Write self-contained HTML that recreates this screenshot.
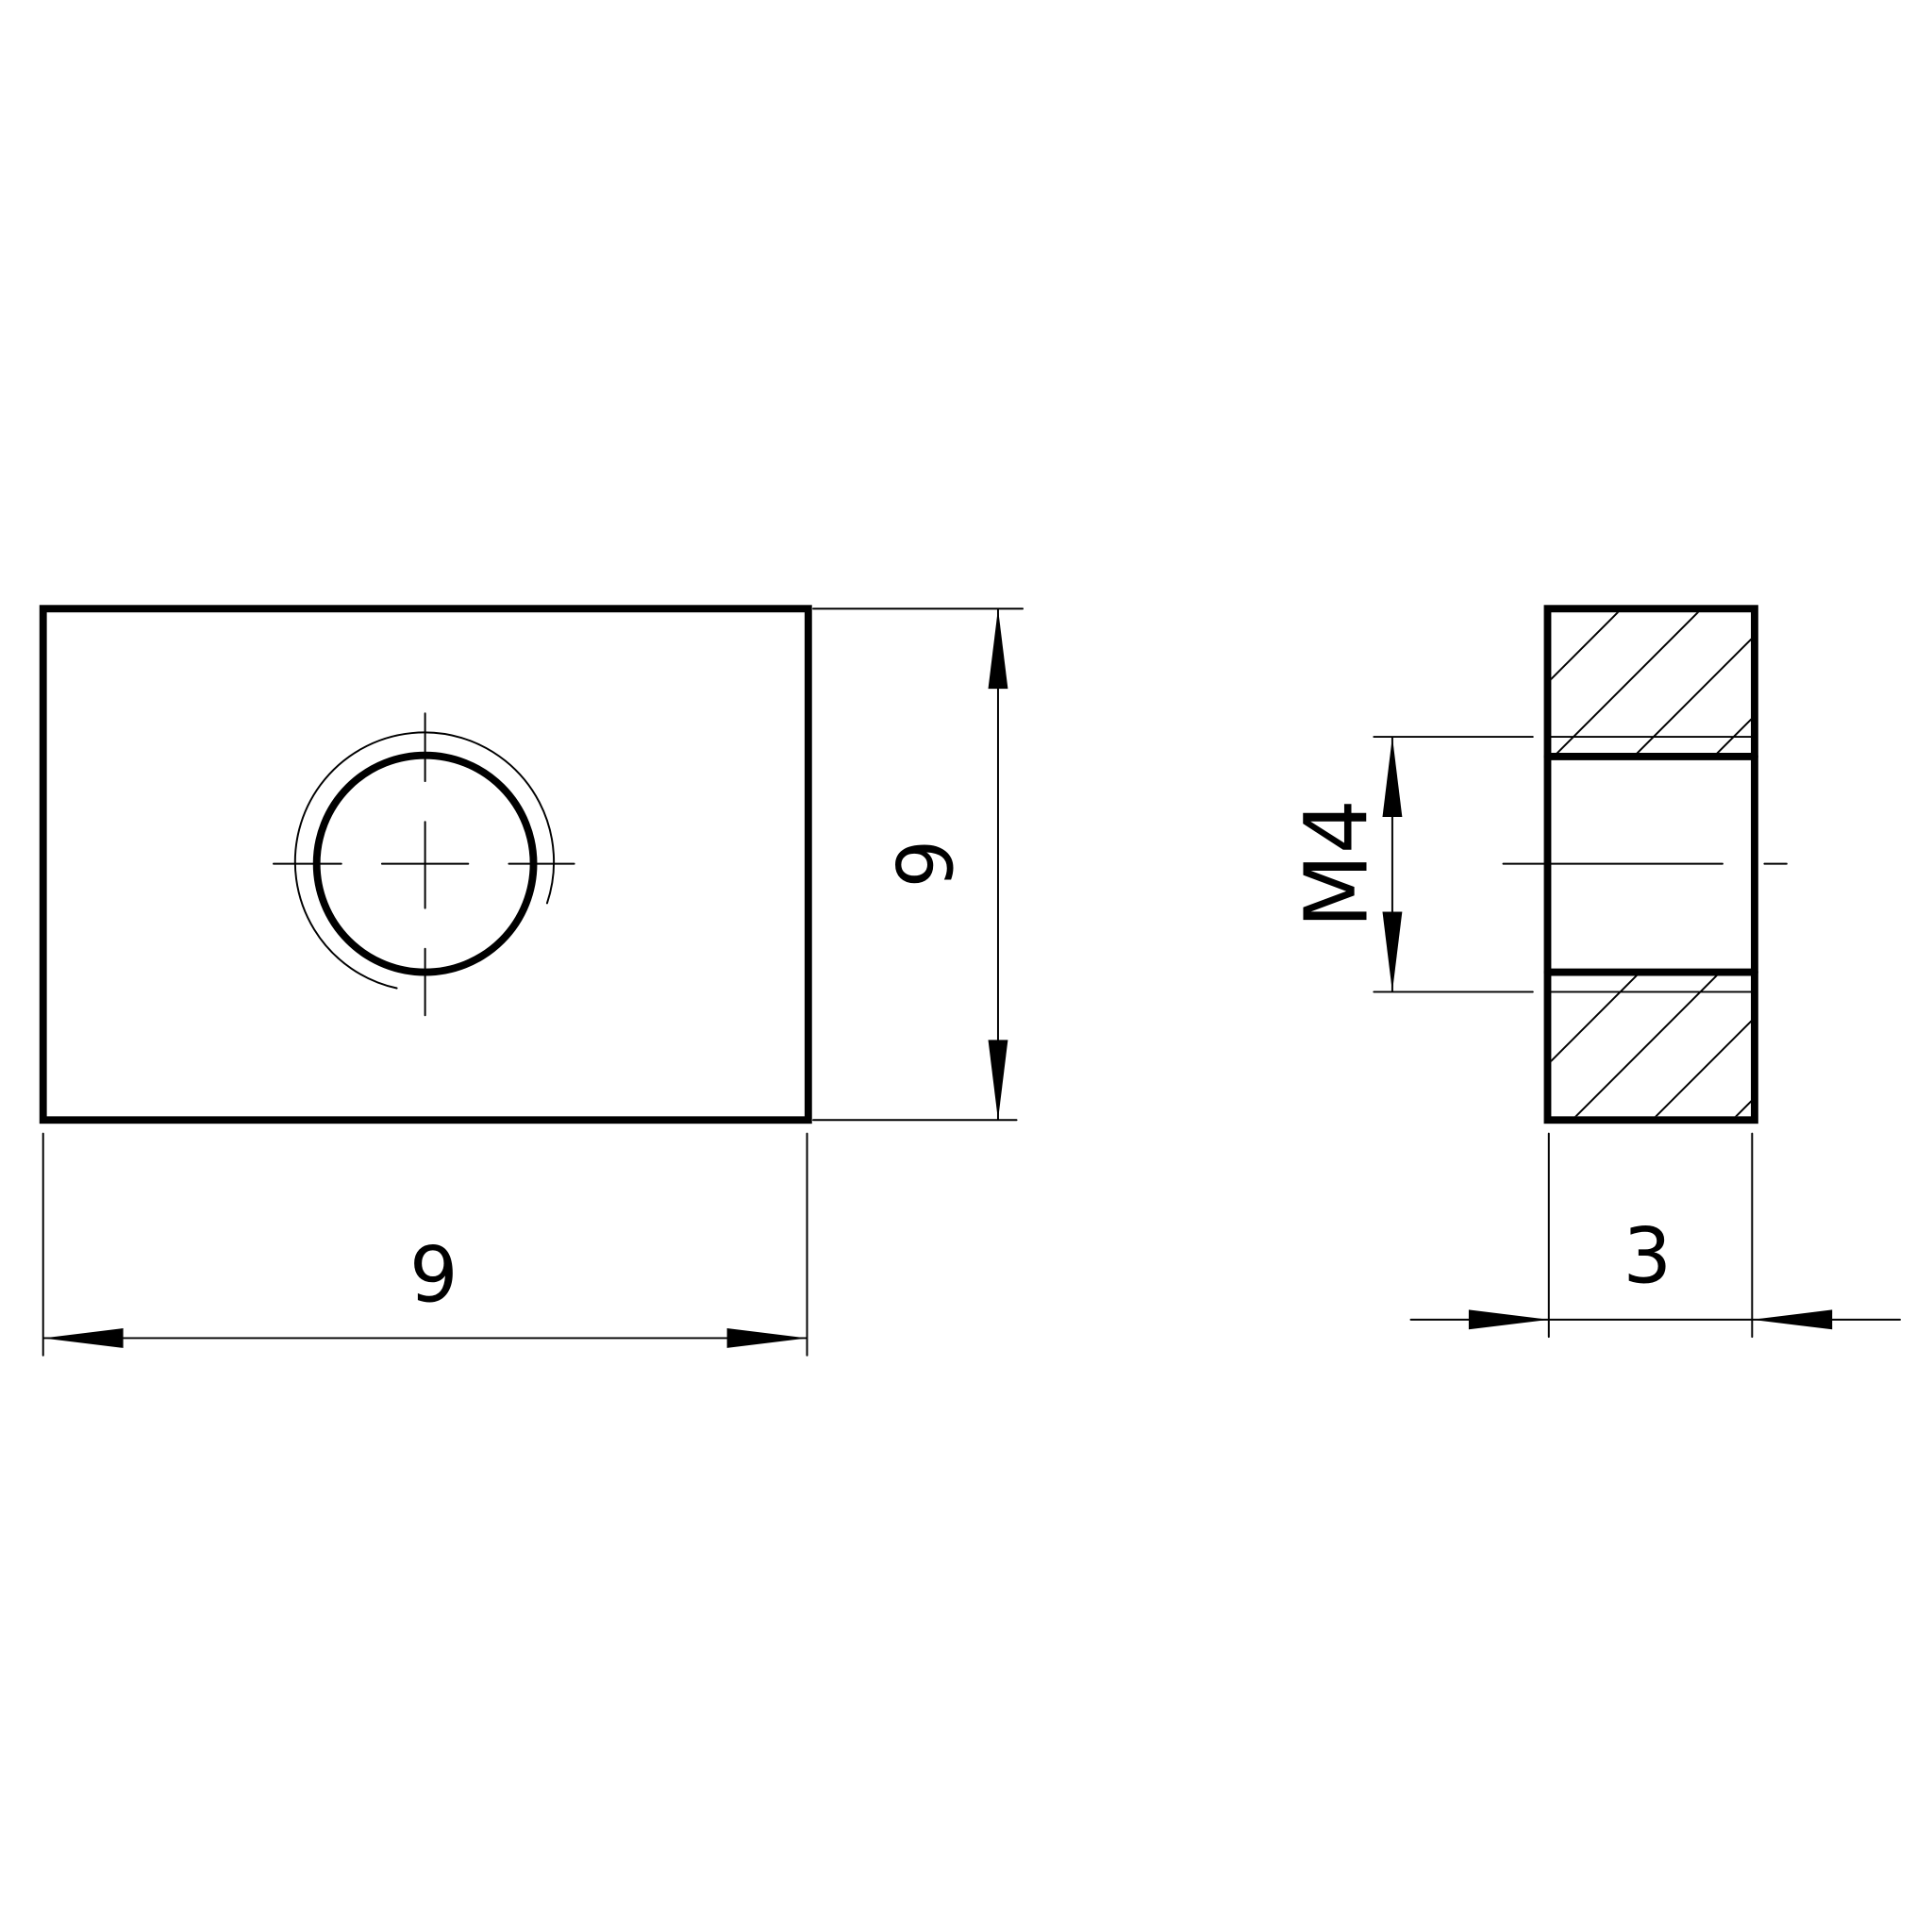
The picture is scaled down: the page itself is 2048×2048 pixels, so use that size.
<!DOCTYPE html>
<html><head><style>html,body{margin:0;padding:0;background:#fff}svg{display:block}</style></head>
<body>
<svg width="2048" height="2048" viewBox="0 0 1568 1568" xmlns="http://www.w3.org/2000/svg">
<defs>
<clipPath id="ct"><rect x="1259" y="497" width="162" height="114"/></clipPath>
<clipPath id="cb"><rect x="1259" y="792" width="162" height="114"/></clipPath>
</defs>
<g stroke="#000" fill="none" stroke-linecap="round">
<rect x="35" y="494" width="621" height="415" stroke-width="6"/>
<circle cx="345" cy="701" r="88" stroke-width="6"/>
<path d="M322 802 A105 105 0 1 1 444 733" stroke-width="1.5"/>
<g stroke-width="1.5">
<path d="M222 701H277M310 701H380M413 701H466M345 579V634M345 667V737M345 770V824"/>
<path d="M660 494H830M660 909H825M810 494V909"/>
<path d="M35 920V1100M655 920V1100M35 1086H655"/>
<path d="M1115 598H1244M1115 805H1244M1256 598H1424M1256 805H1424M1130 598V805"/>
<path d="M1220 701H1398M1432 701H1450"/>
<path d="M1257 920V1085M1422 920V1085M1145 1071H1542"/>
<g clip-path="url(#ct)"><path d="M1190 620L1330 480M1255 620L1395 480M1320 620L1460 480M1385 620L1525 480"/></g>
<g clip-path="url(#cb)"><path d="M1190 930L1340 780M1255 930L1405 780M1320 930L1470 780M1385 930L1535 780"/></g>
</g>
<rect x="1256" y="494" width="168" height="415" stroke-width="6"/>
<path d="M1256 614H1424M1256 789H1424" stroke-width="6"/>
</g>
<g fill="#000">
<path d="M810 494L802 559H818Z"/><path d="M810 909L802 844H818Z"/>
<path d="M35 1086L100 1078V1094Z"/><path d="M655 1086L590 1078V1094Z"/>
<path d="M1130 598L1122 663H1138Z"/><path d="M1130 805L1122 740H1138Z"/>
<path d="M1257 1071L1192 1063V1079Z"/><path d="M1422 1071L1487 1063V1079Z"/>
</g>
<g font-family="DejaVu Sans, Liberation Sans, sans-serif" font-size="62" fill="#000" text-anchor="middle">
<text x="352" y="1056">9</text>
<text x="1337" y="1041">3</text>
<text transform="translate(773 701) rotate(-90)">9</text>
<text transform="translate(1109 701) rotate(-90)" font-size="70">M4</text>
</g>
</svg>
</body></html>
